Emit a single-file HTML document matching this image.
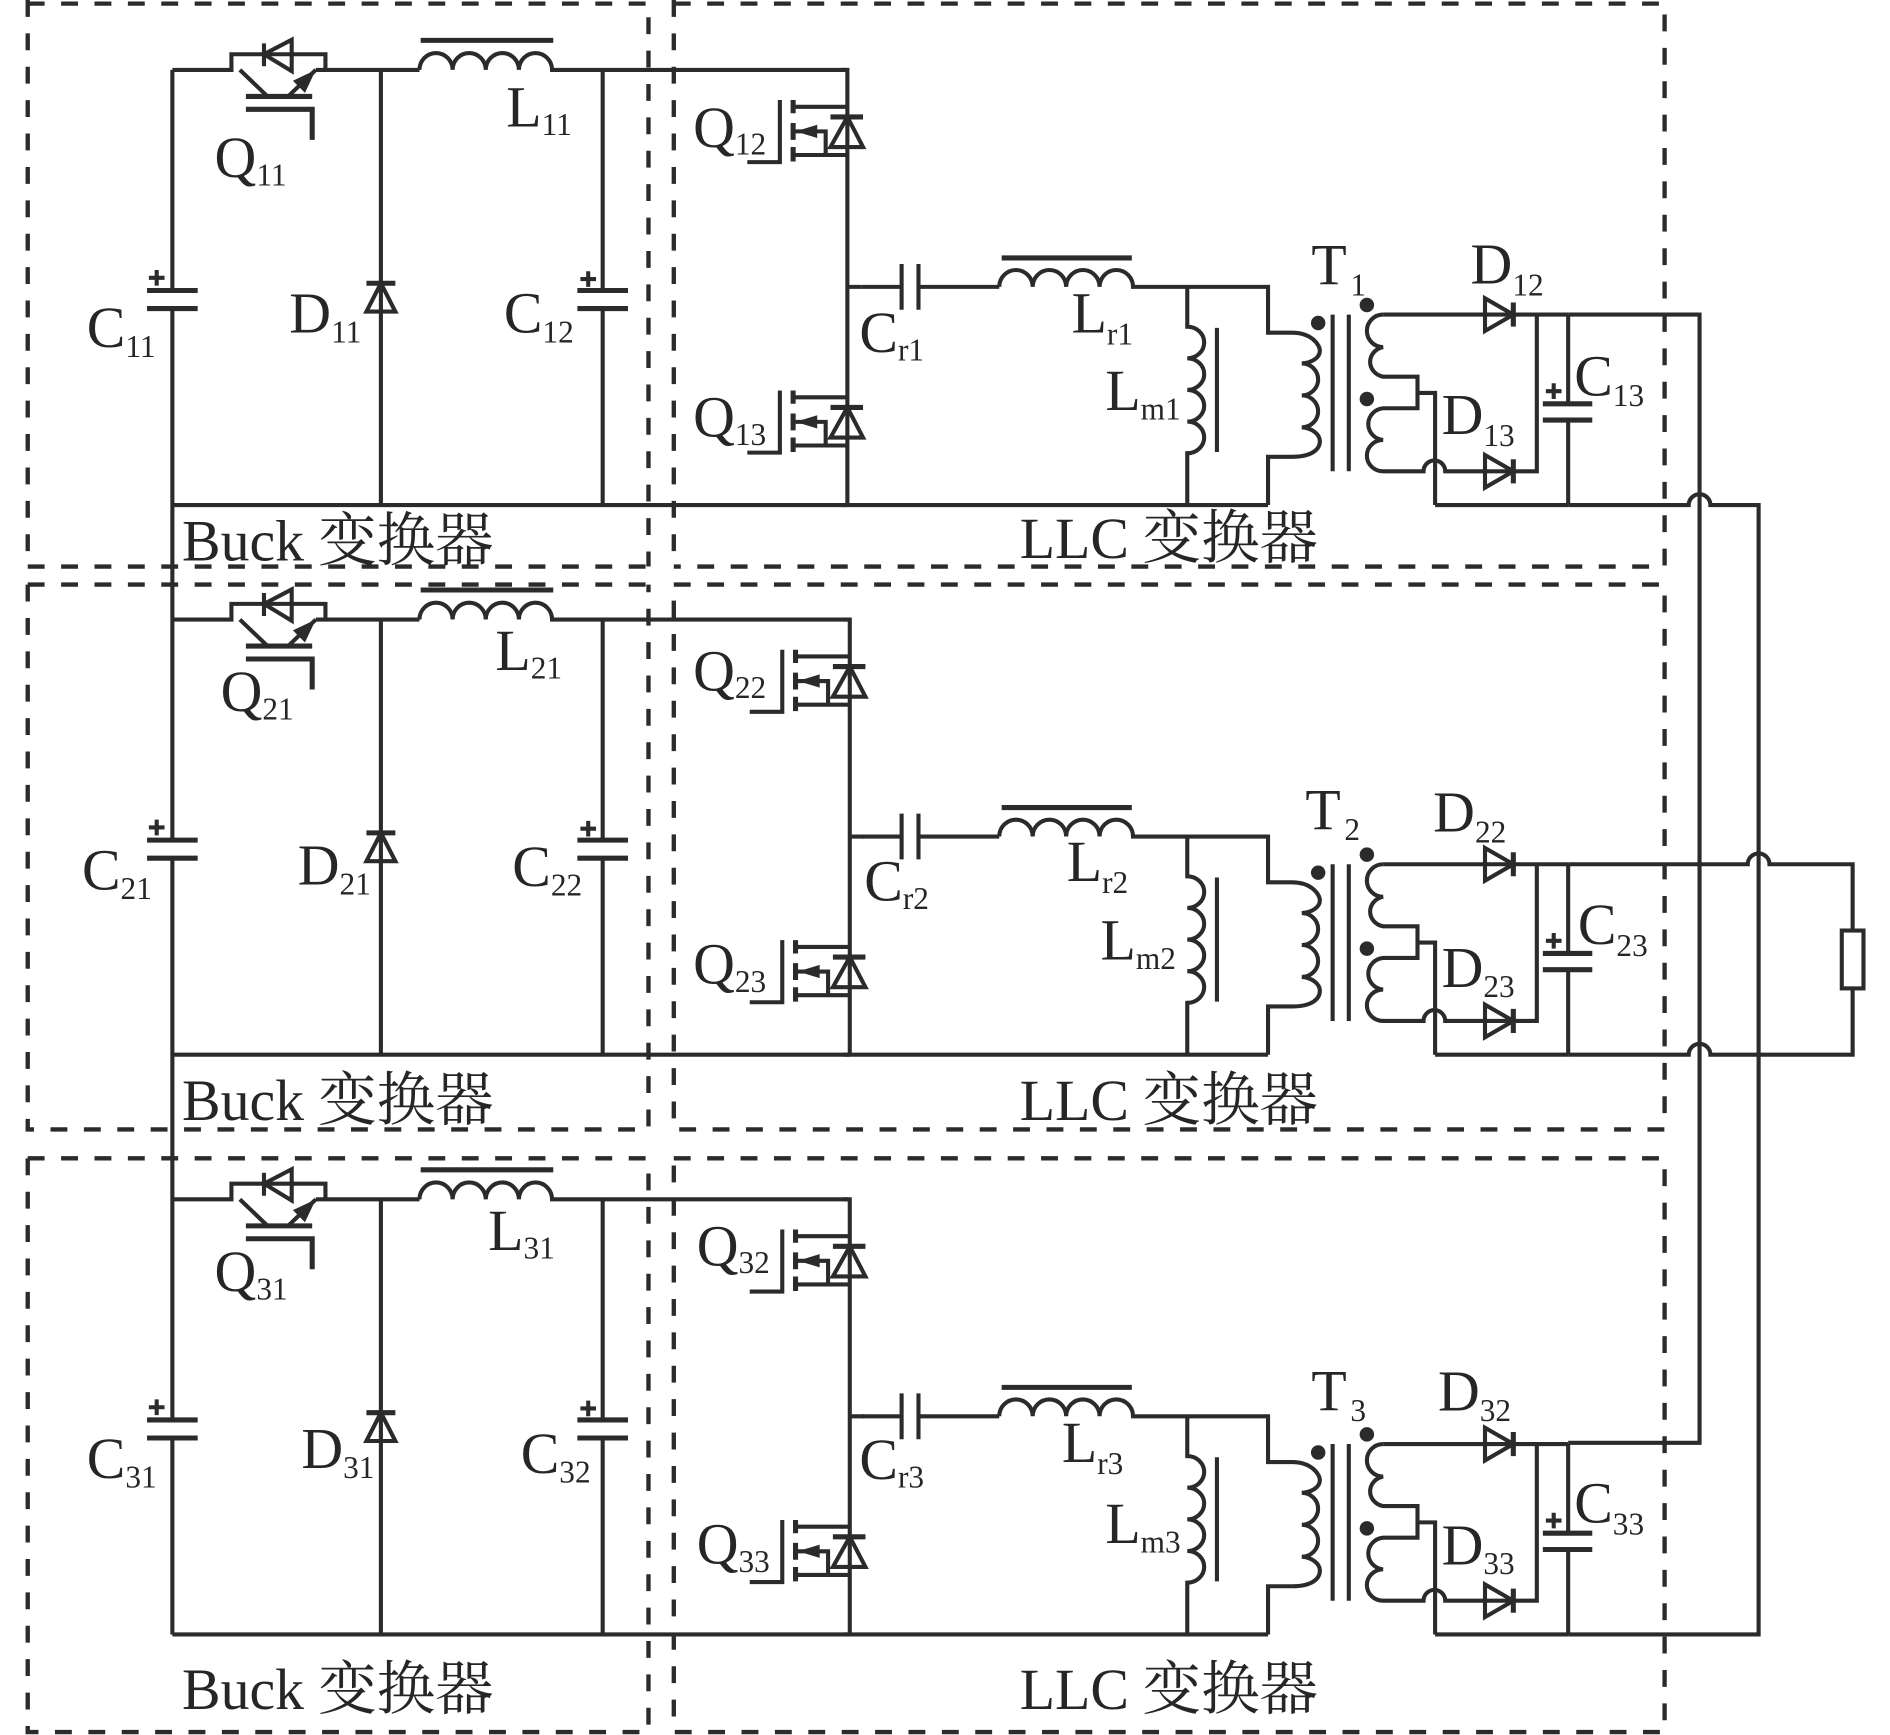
<!DOCTYPE html>
<html>
<head>
<meta charset="utf-8">
<style>
html,body{margin:0;padding:0;background:#fff;}
svg{display:block;}
.w{fill:none;stroke:#2b2b2b;stroke-width:3.4;stroke-linejoin:miter;}
.b{fill:none;stroke:#2b2b2b;stroke-width:4.2;}
.d{fill:none;stroke:#2b2b2b;stroke-width:3.6;stroke-dasharray:14 13.7;}
text{font-family:"Liberation Serif","Noto Serif CJK SC",serif;font-size:48px;fill:#262626;}
.s{font-size:26px;}
.c{font-family:"Noto Serif CJK SC","Liberation Serif",serif;font-size:48.500px;}
</style>
</head>
<body>
<svg width="1890" height="1735" viewBox="0 0 1568 1439.4" xmlns="http://www.w3.org/2000/svg">
<defs>
<g id="buck">
  <path class="w" d="M143 58H192V45H270V58M262 58H348M199 58L222 80M239 80L262 58"/>
  <path class="w" d="M219 36V55M219 45L242 33V59Z"/>
  <path class="b" d="M204 80H259M204 90.7H259V116"/>
  <polygon points="262,58 243,67 253,77" fill="#2b2b2b"/>
  <path class="w" d="M348 58a13.75 14 0 0 1 27.5 0a13.75 14 0 0 1 27.5 0a13.75 14 0 0 1 27.5 0a13.75 14 0 0 1 27.5 0H703"/>
  <path class="b" d="M349 33.5H459"/>
  <path class="w" d="M130 224V237M123.500 230.500H136.500"/>
  <path class="b" d="M122 241H164M122 256H164"/>
  <path class="w" d="M316 58V419M316 235L304 258.500H328Z"/>
  <path class="b" d="M304 235H328"/>
  <path class="w" d="M500 58V241M500 256V419M488 225V238M481.500 231.500H494.500"/>
  <path class="b" d="M479 241H521M479 256H521"/>
  <path class="w" d="M143 419H703"/>
</g>
<g id="fet">
  <path class="w" d="M620 134.500H647V83M658 88.600H703M658 128.600H703M660 109H685V128.600M703 97L689 122H716Z"/>
  <path class="b" d="M658 83V94M658 102V116M658 122V134M689 97H716"/>
  <polygon points="660,109 678,103.500 678,114.500" fill="#2b2b2b"/>
</g>
<g id="mos">
  <path class="w" d="M698 58H703V419M698 419H703M703 238H715"/>
  <use href="#fet"/>
  <use href="#fet" transform="translate(0,241)"/>
</g>
<g id="llc">
  <path class="w" d="M715 238H748M762 238H829M748 219V257M762 219V257"/>
  <path class="w" d="M829 238a13.875 14 0 0 1 27.75 0a13.875 14 0 0 1 27.75 0a13.875 14 0 0 1 27.75 0a13.875 14 0 0 1 27.75 0H1052V276H1072C1088 276 1095 286 1095 291C1095 297 1088 301 1080 301.500A13.500 13.200 0 0 1 1080 328A13.500 13.200 0 0 1 1080 354.500C1088 355 1095 360 1095 366C1095 373 1088 379 1072 379H1052V419"/>
  <path class="b" d="M831 214H939"/>
  <path class="w" d="M985 238V271a14 13.100 0 0 1 0 26.250a14 13.100 0 0 1 0 26.250a14 13.100 0 0 1 0 26.250a14 13.100 0 0 1 0 26.250V419"/>
  <path class="w" d="M1009.600 272V375M1105.600 261V391M1119 261V391"/>
  <circle cx="1093.600" cy="268" r="6" fill="#2b2b2b"/>
  <circle cx="1134" cy="253" r="6" fill="#2b2b2b"/>
  <circle cx="1134" cy="331" r="6" fill="#2b2b2b"/>
  <path class="w" d="M1147.500 261A13.500 13.500 0 0 0 1147.500 288A13.500 12.500 0 0 0 1147.500 312.500H1176V338.700H1147.500A13.500 13.200 0 0 0 1147.500 365A13.500 13 0 0 0 1147.500 391H1181a9 9 0 0 1 18 0H1275V261"/>
  <path class="w" d="M1176 326H1190.600V419M1147.500 261H1301M1301 261V335M1301 348.500V419"/>
  <path class="w" d="M1232 247.500L1255.500 261L1232 274.600ZM1232 377.500L1255.500 391L1232 404.600Z"/>
  <path class="b" d="M1255.500 251V271M1255.500 381V401"/>
  <path class="w" d="M1289 318V331M1282.500 324.500H1295.500"/>
  <path class="b" d="M1280 335H1321M1280 348.500H1321"/>
  <path class="w" d="M703 419H1052M1190.600 419H1301"/>
</g>
</defs>

<path class="d" d="M23 3H538V470M23 470H538M23 0V470M559 3H1381V470H559M559 0V470"/>
<path class="d" d="M23 485H538M23 485V937H538V485M559 485H1381V937H559V485"/>
<path class="d" d="M23 961H538M23 961V1437H538V961M559 961H1381V1437H559V961"/>

<path class="w" d="M143 58V241M143 256V697M143 712V1178M143 1193V1356"/>
<use href="#buck"/><use href="#mos"/><use href="#llc"/>
<use href="#buck" transform="translate(0,456)"/><use href="#mos" transform="translate(2,456)"/><use href="#llc" transform="translate(0,456)"/>
<use href="#buck" transform="translate(0,937)"/><use href="#mos" transform="translate(2,937)"/><use href="#llc" transform="translate(0,937)"/>

<path class="w" d="M1301 261H1410V1197H1301"/>
<path class="w" d="M1301 419H1401a9 9 0 0 1 18 0H1459V1356H1301"/>
<path class="w" d="M1301 717H1450a9 9 0 0 1 18 0H1537V772M1537 820V875H1419a9 9 0 0 0 -18 0H1301"/>
<rect class="w" x="1528" y="772" width="18" height="48"/>

<text x="178" y="147">Q<tspan class="s" dy="7">11</tspan></text>
<text x="420" y="105">L<tspan class="s" dy="7">11</tspan></text>
<text x="72" y="288">C<tspan class="s" dy="8">11</tspan></text>
<text x="240" y="276">D<tspan class="s" dy="8">11</tspan></text>
<text x="418" y="276">C<tspan class="s" dy="8">12</tspan></text>
<text x="575" y="122">Q<tspan class="s" dy="6">12</tspan></text>
<text x="575" y="362">Q<tspan class="s" dy="7">13</tspan></text>
<text x="713" y="292">C<tspan class="s" dy="7">r1</tspan></text>
<text x="889" y="276">L<tspan class="s" dy="10">r1</tspan></text>
<text x="917" y="340">L<tspan class="s" dy="8">m1</tspan></text>
<text x="1088" y="236">T<tspan class="s" dy="9" dx="3">1</tspan></text>
<text x="1220" y="235">D<tspan class="s" dy="10">12</tspan></text>
<text x="1196" y="360">D<tspan class="s" dy="10">13</tspan></text>
<text x="1306" y="328">C<tspan class="s" dy="9">13</tspan></text>
<text x="151" y="465">Buck</text><text class="c" x="264" y="465">变换器</text>
<text x="846" y="463">LLC</text><text class="c" x="948" y="463">变换器</text>

<text x="183" y="590">Q<tspan class="s" dy="7">21</tspan></text>
<text x="411" y="556">L<tspan class="s" dy="7">21</tspan></text>
<text x="68" y="738">C<tspan class="s" dy="8">21</tspan></text>
<text x="247" y="734">D<tspan class="s" dy="8">21</tspan></text>
<text x="425" y="735">C<tspan class="s" dy="8">22</tspan></text>
<text x="575" y="573">Q<tspan class="s" dy="6">22</tspan></text>
<text x="575" y="816">Q<tspan class="s" dy="7">23</tspan></text>
<text x="717" y="747">C<tspan class="s" dy="7">r2</tspan></text>
<text x="885" y="731">L<tspan class="s" dy="10">r2</tspan></text>
<text x="913" y="796">L<tspan class="s" dy="8">m2</tspan></text>
<text x="1083" y="688">T<tspan class="s" dy="9" dx="3">2</tspan></text>
<text x="1189" y="690">D<tspan class="s" dy="9">22</tspan></text>
<text x="1196" y="819">D<tspan class="s" dy="8">23</tspan></text>
<text x="1309" y="783">C<tspan class="s" dy="10">23</tspan></text>
<text x="151" y="929">Buck</text><text class="c" x="264" y="929">变换器</text>
<text x="846" y="929">LLC</text><text class="c" x="948" y="929">变换器</text>

<text x="178" y="1071">Q<tspan class="s" dy="7">31</tspan></text>
<text x="405" y="1037">L<tspan class="s" dy="7">31</tspan></text>
<text x="72" y="1226">C<tspan class="s" dy="8">31</tspan></text>
<text x="250" y="1218">D<tspan class="s" dy="8">31</tspan></text>
<text x="432" y="1222">C<tspan class="s" dy="8">32</tspan></text>
<text x="578" y="1050">Q<tspan class="s" dy="6">32</tspan></text>
<text x="578" y="1297">Q<tspan class="s" dy="7">33</tspan></text>
<text x="713" y="1227">C<tspan class="s" dy="7">r3</tspan></text>
<text x="881" y="1213">L<tspan class="s" dy="10">r3</tspan></text>
<text x="917" y="1280">L<tspan class="s" dy="8">m3</tspan></text>
<text x="1088" y="1170">T<tspan class="s" dy="9" dx="3">3</tspan></text>
<text x="1193" y="1170">D<tspan class="s" dy="9">32</tspan></text>
<text x="1196" y="1298">D<tspan class="s" dy="8">33</tspan></text>
<text x="1306" y="1263">C<tspan class="s" dy="10">33</tspan></text>
<text x="151" y="1418">Buck</text><text class="c" x="264" y="1418">变换器</text>
<text x="846" y="1418">LLC</text><text class="c" x="948" y="1418">变换器</text>
</svg>
</body>
</html>
